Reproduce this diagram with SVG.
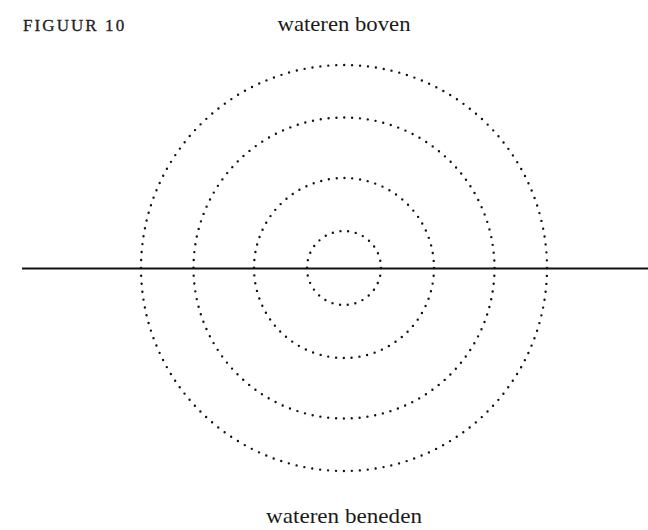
<svg xmlns="http://www.w3.org/2000/svg" width="648" height="530" viewBox="0 0 648 530">
  <style>
    .ring { fill: none; stroke: #111; stroke-width: 2.4; stroke-linecap: round; }
    .lbl { font-family: "Liberation Serif", serif; font-size: 22px; fill: #1a1a1a; }
    .fig { font-family: "Liberation Serif", serif; font-size: 17px; fill: #222; letter-spacing: 1.8px; stroke: #222; stroke-width: 0.3px; }
  </style>
  <rect width="648" height="530" fill="#fff"/>
  <text id="figlabel" class="fig" x="23" y="31" textLength="103" lengthAdjust="spacing">FIGUUR 10</text>
  <g id="top-label"><text class="lbl" x="344" y="31" text-anchor="middle" textLength="133" lengthAdjust="spacingAndGlyphs">wateren boven</text></g>
  <g id="bottom-label"><text class="lbl" x="344" y="523" text-anchor="middle" textLength="156" lengthAdjust="spacingAndGlyphs">wateren beneden</text></g>
  <g id="ring-outer"><circle class="ring" cx="344" cy="268" r="203" stroke-dasharray="0 7.97"/></g>
  <g id="ring-3"><circle class="ring" cx="344" cy="268" r="150.5" stroke-dasharray="0 7.88"/></g>
  <g id="ring-2"><circle class="ring" cx="344" cy="268" r="90" stroke-dasharray="0 7.85"/></g>
  <g id="ring-inner"><circle class="ring" cx="344" cy="268" r="37" stroke-dasharray="0 7.75"/></g>
  <g id="connectors">
    <line x1="22" y1="268.5" x2="648" y2="268.5" stroke="#111" stroke-width="1.8"/>
  </g>
</svg>
